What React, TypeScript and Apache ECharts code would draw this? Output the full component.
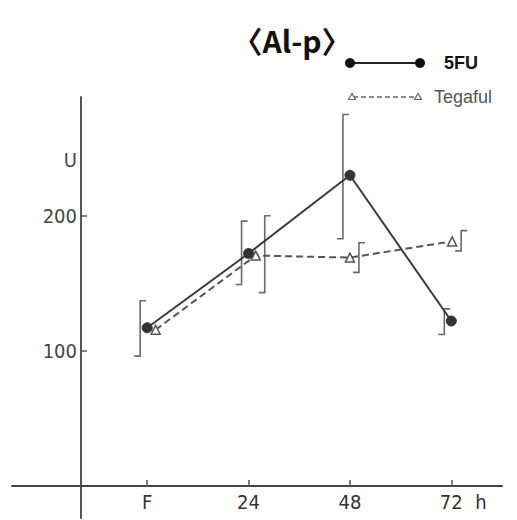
import React, { useEffect, useRef } from "react";
import * as echarts from "echarts";

// ---- data ----
const fuX = [0, 24, 48, 72];
const fuY = [117, 172, 230, 122];
const fuLow = [96, 149, 183, 112];
const fuHigh = [137, 196, 275, 131];

const tegX = [2, 25.7, 48, 72.2];
const tegY = [115.5, 170.5, 169, 181];
const tegErrIdx = [1, 2, 3];
const tegLow = [143, 158, 174];
const tegHigh = [200, 180, 189];

const xTickValues = [0, 24, 48, 72];
const xLabelValues = [0, 24, 48, 72, 79];
const xLabelText: Record<number, string> = { 0: "F", 24: "24", 48: "48", 72: "72", 79: "h" };
const yTickValues = [100, 200];
const yLabelValues = [100, 200, 241];
const yLabelText: Record<number, string> = { 100: "100", 200: "200", 241: "U" };

const titleText = "〈Al-p〉";
const legendNames = ["5FU", "Tegaful"];

const NARROW = '"Liberation Sans Narrow", "DejaVu Sans Condensed", "Liberation Sans", sans-serif';

function errRender(dx: number) {
  return (params: any, api: any) => {
    const x = api.value(0);
    const lo = api.coord([x, api.value(1)]);
    const hi = api.coord([x, api.value(2)]);
    const px = lo[0] + dx;
    return {
      type: "polyline",
      shape: {
        points: [
          [px + 6, hi[1]],
          [px, hi[1]],
          [px, lo[1]],
          [px - 6, lo[1]],
        ],
      },
      style: { stroke: "#6a6a6a", lineWidth: 1.6, fill: "none" },
    };
  };
}

export default function App() {
  const ref = useRef<HTMLDivElement>(null);
  useEffect(() => {
    if (!ref.current) return;
    const chart = echarts.init(ref.current, undefined, { renderer: "svg" });
    const option: any = {
      animation: false,
      backgroundColor: "#ffffff",
      title: {
        text: titleText,
        left: 287,
        top: 20,
        textAlign: "center",
        textStyle: {
          fontFamily: '"Noto Sans CJK JP", "DejaVu Sans", sans-serif',
          fontSize: 30,
          fontWeight: "bold",
          color: "#111",
        },
      },
      grid: { left: 12, right: 15, top: 97, bottom: 2, containLabel: false, outerBoundsMode: "none" },
      xAxis: {
        type: "value",
        min: -32,
        max: 84,
        position: "bottom",
        offset: -32,
        axisLine: { onZero: false, lineStyle: { color: "#444", width: 2 } },
        axisTick: { show: true, inside: true, length: 6, customValues: xTickValues, lineStyle: { color: "#555", width: 1.5 } },
        axisLabel: {
          customValues: xLabelValues,
          formatter: (v: number) => xLabelText[v] ?? "",
          color: "#333",
          fontSize: 20,
          fontFamily: NARROW,
          margin: 6,
        },
        splitLine: { show: false },
      },
      yAxis: {
        type: "value",
        min: -24,
        max: 288,
        position: "left",
        offset: -69,
        axisLine: { show: true, onZero: false, lineStyle: { color: "#555", width: 2 } },
        axisTick: { show: true, inside: true, length: 6, customValues: yTickValues, lineStyle: { color: "#555", width: 1.5 } },
        axisLabel: {
          customValues: yLabelValues,
          formatter: (v: number) => yLabelText[v] ?? "",
          color: "#444",
          fontSize: 20,
          fontFamily: NARROW,
          margin: 4,
        },
        splitLine: { show: false },
      },
      series: [
        {
          name: legendNames[0],
          type: "line",
          data: fuX.map((x, i) => [x, fuY[i]]),
          symbol: "circle",
          symbolSize: 10,
          lineStyle: { color: "#3a3a3a", width: 2 },
          itemStyle: { color: "#333", borderColor: "#333" },
          z: 3,
        },
        {
          name: legendNames[1],
          type: "line",
          data: tegX.map((x, i) => [x, tegY[i]]),
          symbol: "triangle",
          symbolSize: 9,
          lineStyle: { color: "#555", width: 2, type: [7, 4] },
          itemStyle: { color: "#fff", borderColor: "#555", borderWidth: 1.5 },
          z: 4,
        },
        {
          type: "custom",
          renderItem: errRender(-7),
          data: fuX.map((x, i) => [x, fuLow[i], fuHigh[i]]),
          silent: true,
          z: 2,
        },
        {
          type: "custom",
          renderItem: errRender(9),
          data: tegErrIdx.map((idx, i) => [tegX[idx], tegLow[i], tegHigh[i]]),
          silent: true,
          z: 2,
        },
      ],
      graphic: [
        { type: "line", shape: { x1: 350, y1: 63, x2: 420, y2: 63 }, style: { stroke: "#222", lineWidth: 2 } },
        { type: "circle", shape: { cx: 350, cy: 63, r: 5 }, style: { fill: "#111" } },
        { type: "circle", shape: { cx: 420, cy: 63, r: 5 }, style: { fill: "#111" } },
        {
          type: "text",
          x: 444,
          y: 63,
          style: {
            text: legendNames[0],
            font: 'bold 18px "Liberation Sans", sans-serif',
            fill: "#111",
            verticalAlign: "middle",
          },
        },
        { type: "line", shape: { x1: 353, y1: 97, x2: 417, y2: 97 }, style: { stroke: "#666", lineWidth: 1.5, lineDash: [5, 3] } },
        { type: "polygon", shape: { points: [[352, 93.5], [348.5, 99.5], [355.5, 99.5]] }, style: { fill: "#fff", stroke: "#666", lineWidth: 1.2 } },
        { type: "polygon", shape: { points: [[418, 93.5], [414.5, 99.5], [421.5, 99.5]] }, style: { fill: "#fff", stroke: "#666", lineWidth: 1.2 } },
        {
          type: "text",
          x: 434,
          y: 97,
          style: {
            text: legendNames[1],
            font: '18px "Liberation Sans", sans-serif',
            fill: "#555",
            verticalAlign: "middle",
          },
        },
      ],
    };
    chart.setOption(option);
    return () => chart.dispose();
  }, []);
  return <div ref={ref} style={{ width: 517, height: 520, position: "absolute", left: 0, top: 0 }} />;
}
